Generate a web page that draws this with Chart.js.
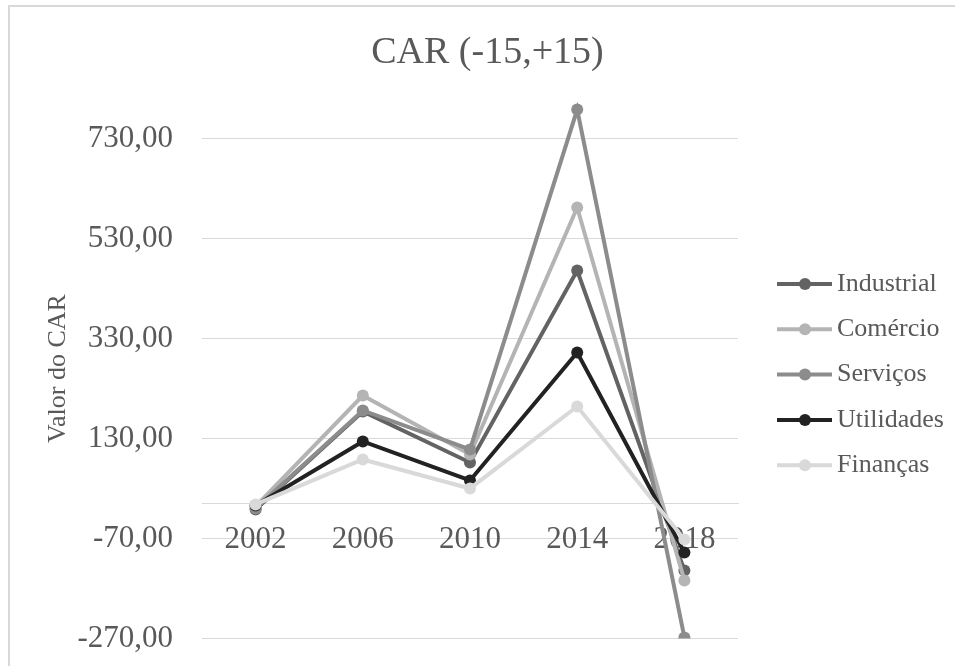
<!DOCTYPE html>
<html>
<head>
<meta charset="utf-8">
<script src="https://cdn.jsdelivr.net/npm/chart.js@4.4.0/dist/chart.umd.min.js"></script>
<style>
    html, body { margin: 0; padding: 0; background: #fff; }
    #caixa { position: relative; width: 955px; height: 666px; overflow: hidden; }
    #moldura { position: absolute; left: 8px; top: 5px; width: 1000px; height: 1000px;
               border-left: 2px solid #d9d9d9; border-top: 2px solid #d9d9d9; }
    #carChart { position: absolute; left: 0; top: 0; }
</style>
</head>
<body>
<div id="caixa">
    <div id="moldura"></div>
    <canvas id="carChart" width="955" height="666"></canvas>
</div>
<script>
// dados
const anos = ["2002", "2006", "2010", "2014", "2018"];
const industrial = [-12, 184, 82, 466, -134];
const comercio = [-6, 216, 98, 592, -154];
const servicos = [-10, 186, 108, 788, -268];
const utilidades = [-4, 124, 46, 302, -98];
const financas = [-2, 88, 30, 194, -72];
const marcasEixoY = [-270, -70, 130, 330, 530, 730];

const fonteSerif = "'Liberation Serif', 'Times New Roman', serif";
const corTexto = "#595959";
const corGrade = "#d9d9d9";

function serie(nome, valores, cor, ordem) {
    return {
        label: nome,
        data: valores,
        borderColor: cor,
        backgroundColor: cor,
        pointBackgroundColor: cor,
        pointBorderColor: cor,
        borderWidth: 4,
        pointRadius: 6,
        pointBorderWidth: 0,
        tension: 0,
        order: ordem
    };
}

// legenda desenhada à direita, como no Excel (linha + marcador)
const legendaLateral = {
    id: "legendaLateral",
    afterDraw(chart) {
        const ctx = chart.ctx;
        ctx.save();
        ctx.font = "26px " + fonteSerif;
        ctx.textBaseline = "middle";
        chart.data.datasets.forEach((ds, i) => {
            const y = 284 + i * 45.3;
            ctx.strokeStyle = ds.borderColor;
            ctx.lineWidth = 4;
            ctx.beginPath();
            ctx.moveTo(777, y);
            ctx.lineTo(832, y);
            ctx.stroke();
            ctx.fillStyle = ds.borderColor;
            ctx.beginPath();
            ctx.arc(805, y, 6, 0, 2 * Math.PI);
            ctx.fill();
            ctx.fillStyle = corTexto;
            ctx.fillText(ds.label, 837, y);
        });
        ctx.restore();
    }
};

new Chart(document.getElementById("carChart"), {
    type: "line",
    data: {
        labels: anos,
        datasets: [
            serie("Industrial", industrial, "#636363", 4),
            serie("Comércio", comercio, "#b4b4b4", 3),
            serie("Serviços", servicos, "#8c8c8c", 2),
            serie("Utilidades", utilidades, "#222222", 1),
            serie("Finanças", financas, "#d9d9d9", 0)
        ]
    },
    options: {
        responsive: false,
        animation: false,
        layout: { padding: { left: 20, right: 0, top: 0, bottom: 10 } },
        plugins: {
            legend: { display: false },
            tooltip: { enabled: false },
            title: {
                display: true,
                text: "CAR (-15,+15)",
                color: corTexto,
                font: { family: fonteSerif, size: 38, weight: "normal" },
                padding: { top: 30, bottom: 23 }
            }
        },
        scales: {
            x: {
                position: { y: 0 },
                offset: true,
                grid: { display: false, drawTicks: false },
                border: { display: true, color: corGrade, width: 1 },
                ticks: {
                    color: corTexto,
                    padding: 18,
                    maxRotation: 0,
                    font: { family: fonteSerif, size: 31 }
                }
            },
            y: {
                min: -270,
                max: 810,
                afterBuildTicks: (scale) => {
                    scale.ticks = marcasEixoY.map(v => ({ value: v }));
                },
                afterFit: (scale) => { scale.width = 182; },
                // marcas invisíveis só para afastar os rótulos da área do gráfico
                grid: { color: corGrade, lineWidth: 1, drawTicks: true, tickLength: 20, tickColor: "rgba(0,0,0,0)" },
                border: { display: false },
                ticks: {
                    color: corTexto,
                    padding: 9,
                    font: { family: fonteSerif, size: 31 },
                    callback: (v) => v.toFixed(2).replace(".", ",")
                },
                title: {
                    display: true,
                    text: "Valor do CAR",
                    color: corTexto,
                    font: { family: fonteSerif, size: 26 },
                    padding: { top: 23, bottom: 0 }
                }
            },
            espacoLegenda: {
                type: "linear",
                position: "right",
                display: true,
                grid: { display: false },
                border: { display: false },
                ticks: { display: false },
                afterFit: (scale) => { scale.width = 217; }
            }
        }
    },
    plugins: [legendaLateral]
});
</script>
</body>
</html>
